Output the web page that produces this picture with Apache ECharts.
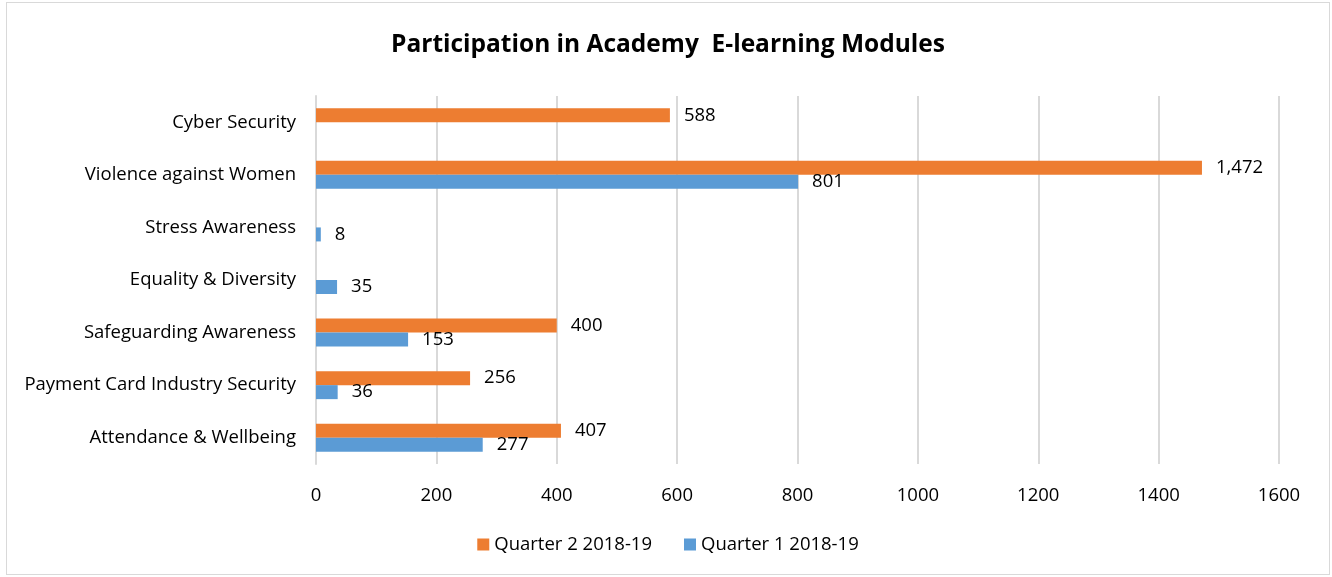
<!DOCTYPE html>
<html>
<head>
<meta charset="utf-8">
<script src="https://cdn.jsdelivr.net/npm/echarts@6/dist/echarts.min.js"></script>
<style>
    html, body { margin: 0; padding: 0; background: #fff; }
    #chart { position: absolute; left: 6px; top: 2px; width: 1324px; height: 573px; border: 1px solid #d9d9d9; box-sizing: border-box; }
</style>
</head>
<body>
<div id="chart"></div>
<script>
const categories = ["Attendance & Wellbeing", "Payment Card Industry Security", "Safeguarding Awareness", "Equality & Diversity", "Stress Awareness", "Violence against Women", "Cyber Security"];
const quarter2 = [407, 256, 400, null, null, 1472, 588];
const quarter1 = [277, 36, 153, 35, 8, 801, null];
const seriesNames = ["Quarter 2 2018-19", "Quarter 1 2018-19"];

const fontFamily = "'Open Sans', 'Noto Sans', sans-serif";
const fontSize = 18.5;

function valueLabel() {
    return {
        show: true,
        position: 'right',
        distance: 14,
        color: '#000',
        fontSize: fontSize,
        fontFamily: fontFamily,
        formatter: p => p.value.toLocaleString('en-US')
    };
}

const chart = echarts.init(document.getElementById("chart"));
const option = {
    animation: false,
    title: {
        text: 'Participation in Academy  E-learning Modules',
        left: 'center',
        top: 25,
        textStyle: { fontSize: 24.5, fontWeight: 'bold', color: '#000', fontFamily: fontFamily }
    },
    legend: {
        bottom: 15,
        left: 'center',
        itemWidth: 12,
        itemHeight: 12,
        itemGap: 32,
        icon: 'rect',
        textStyle: { fontSize: fontSize, color: '#000', fontFamily: fontFamily },
        data: seriesNames
    },
    grid: { left: 309, right: 50, top: 93, bottom: 110, containLabel: false },
    xAxis: {
        type: 'value',
        min: 0,
        max: 1600,
        interval: 200,
        axisLine: { show: false },
        axisTick: { show: false },
        axisLabel: { color: '#000', fontSize: fontSize, margin: 22, fontFamily: fontFamily, formatter: v => String(v) },
        splitLine: { lineStyle: { color: '#d9d9d9', width: 2 } }
    },
    yAxis: {
        type: 'category',
        data: categories,
        axisLine: { lineStyle: { color: '#d9d9d9', width: 2 } },
        axisTick: { show: false },
        axisLabel: { color: '#000', fontSize: fontSize, margin: 20, fontFamily: fontFamily }
    },
    series: [
        {
            name: seriesNames[0],
            type: 'bar',
            data: quarter2,
            barWidth: 14,
            barGap: '0%',
            itemStyle: { color: '#ED7D31' },
            label: valueLabel()
        },
        {
            name: seriesNames[1],
            type: 'bar',
            data: quarter1,
            barWidth: 14,
            barGap: '0%',
            itemStyle: { color: '#5B9BD5' },
            label: valueLabel()
        }
    ]
};
chart.setOption(option);
</script>
</body>
</html>
